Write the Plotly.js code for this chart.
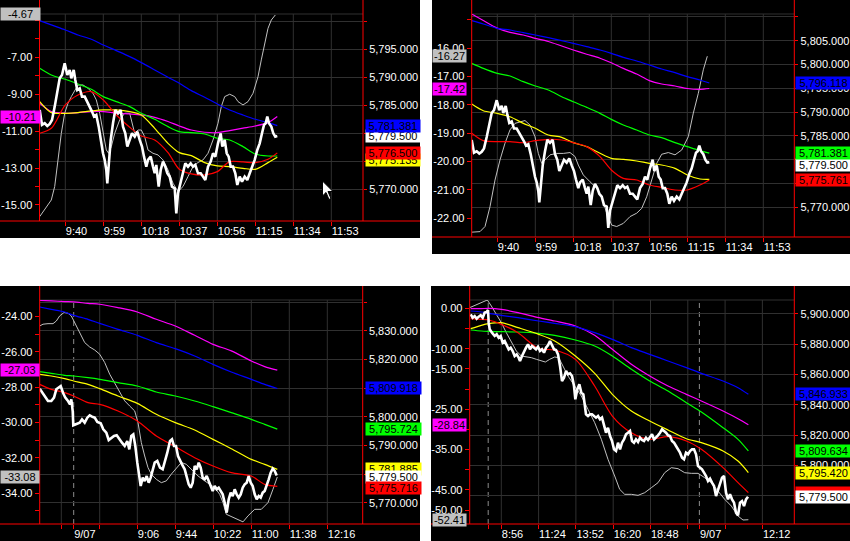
<!DOCTYPE html>
<html><head><meta charset="utf-8">
<script src="https://cdn.plot.ly/plotly-3.0.1.min.js"></script>
<style>html,body{margin:0;padding:0;background:#fff;overflow:hidden}#chart{width:850px;height:541px}</style>
</head><body><div id="chart"></div>
<script>
// ================= DATA =================
// Panels 1 & 2 share the same price series (1-min closes), x = minutes after 9:00
const priceTime12 = [27.2,28.35,29.7,31.0,32.2,33.35,34.7,36.0,37.2,38.35,
39.7,41.0,42.2,43.0,44.2,45.0,46.0,47.2,48.35,49.7,
51.0,52.2,53.35,54.35,55.5,56.7,57.7,58.85,59.7,60.5,
61.0,61.85,62.7,63.85,65.0,66.35,67.7,68.85,70.0,71.0,
72.2,73.35,74.7,76.0,77.2,78.35,79.35,80.5,81.35,82.7,
83.85,84.7,85.5,86.7,87.7,88.85,90.0,91.0,92.2,93.35,
94.7,95.5,96.35,97.7,98.85,100.0,101.35,102.7,103.85,105.0,
106.35,107.7,108.85,110.0,111.35,112.7,113.85,115.0,116.35,117.7,
118.5,119.7,120.7,121.7,122.7,123.85,125.0,126.0,127.2,128.35,
129.7,131.0,132.2,133.35,134.7,136.0,137.2,138.35,139.35,140.2,
141.0,141.85,143.0,144.0,145.0,146.0];
const price12 = [5784.17,5781.49,5781.79,5781.31,5781.67,5782.38,5784.76,5787.14,5789.82,5790.42,
5792.50,5790.42,5791.31,5789.82,5791.31,5789.52,5787.74,5788.04,5786.55,5786.55,
5785.65,5784.76,5783.87,5782.98,5783.27,5781.19,5778.81,5776.43,5775.24,5773.45,
5771.07,5775.24,5778.81,5781.79,5784.17,5783.57,5784.17,5781.19,5780.00,5777.62,
5778.81,5780.00,5779.40,5780.30,5778.81,5777.62,5775.83,5774.05,5775.24,5775.83,
5774.05,5772.86,5774.35,5770.48,5773.45,5774.94,5774.05,5772.86,5772.26,5770.48,
5770.18,5765.71,5769.29,5771.37,5772.86,5774.64,5774.05,5774.64,5774.05,5774.35,
5772.86,5772.86,5772.26,5771.67,5774.05,5774.94,5776.43,5775.83,5778.21,5780.00,
5777.62,5778.81,5776.43,5775.83,5774.05,5774.05,5772.86,5770.77,5772.26,5771.37,
5772.26,5771.67,5772.86,5774.05,5775.24,5777.02,5778.21,5780.00,5781.49,5781.79,
5782.98,5781.79,5781.19,5780.00,5779.40,5779.50];
const maTime12 = [27.2,33.0,40.0,46.35,53.0,59.0,65.5,72.2,78.0,84.7,91.35,97.0,103.0,109.7,116.0,122.2,128.85,135.0,141.35,146.0];

// Panel 1
const blue1 = [5800.12,5799.35,5798.45,5797.56,5796.79,5795.77,5794.76,5793.69,5792.62,5791.31,5790.00,5788.93,5787.62,5786.43,5785.24,5784.17,5783.27,5782.50,5781.90,5781.38];
const green1 = [5791.61,5790.42,5789.64,5788.81,5787.86,5786.55,5785.65,5784.76,5783.57,5782.50,5781.19,5780.30,5780.12,5779.88,5779.11,5778.81,5777.62,5776.31,5775.95,5775.95];
const yellow1 = [5785.65,5783.69,5783.57,5783.69,5783.99,5784.17,5784.17,5783.87,5783.27,5780.89,5778.21,5776.55,5776.01,5774.76,5774.17,5774.05,5773.75,5773.57,5774.76,5775.71];
const red1 = [5780.00,5780.89,5785.06,5786.85,5787.44,5785.95,5783.27,5781.07,5779.52,5778.81,5776.55,5773.57,5772.74,5772.56,5773.15,5774.94,5774.88,5774.76,5775.36,5776.50];
const magenta1 = [-9.49,-9.94,-10.03,-10.00,-9.94,-9.94,-10.03,-10.07,-10.12,-10.25,-10.48,-10.72,-10.94,-11.06,-11.08,-10.97,-10.84,-10.72,-10.54,-10.21];
const grayTime1 = [27.2,29.7,33.0,34.7,36.35,38.0,39.7,41.35,43.0,44.7,
46.35,48.85,51.35,53.85,55.5,57.2,58.85,60.5,61.7,63.0,
64.7,67.2,69.7,72.2,74.7,76.35,78.0,79.7,81.35,83.85,
86.35,88.85,91.35,93.85,96.35,98.85,101.35,103.85,106.35,108.85,
111.35,113.85,116.35,118.0,119.7,122.2,124.7,126.35,128.85,131.35,
133.85,136.35,138.0,139.7,141.35,143.0,145.0];
const gray1 = [-15.63,-15.27,-14.73,-14.00,-12.56,-11.12,-10.03,-9.49,-9.13,-8.77,
-8.50,-8.50,-8.68,-8.95,-9.31,-10.03,-11.12,-12.02,-12.20,-11.84,
-11.12,-10.39,-10.03,-10.03,-11.12,-10.94,-10.94,-11.30,-12.02,-12.20,
-12.29,-12.56,-13.10,-13.82,-14.27,-14.00,-13.46,-12.92,-12.70,-12.56,
-12.20,-11.48,-10.57,-9.67,-9.13,-9.00,-9.13,-9.40,-9.58,-9.40,
-8.95,-8.05,-7.14,-6.24,-5.43,-4.98,-4.71];

// Panel 2
const blue2 = [5809.20,5808.50,5807.59,5807.24,5806.68,5806.19,5805.63,5805.00,5804.44,5803.74,5803.04,5802.34,5801.50,5800.73,5799.89,5799.05,5798.28,5797.44,5796.74,5796.12];
const green2 = [5800.24,5799.19,5798.14,5797.58,5796.39,5795.48,5794.64,5793.24,5792.19,5791.00,5789.74,5788.48,5787.30,5786.25,5785.20,5784.64,5783.59,5782.75,5781.91,5781.38];
const yellow2 = [5791.70,5790.30,5789.74,5789.04,5787.64,5786.60,5785.20,5784.71,5783.59,5782.75,5781.35,5780.30,5780.09,5779.74,5779.25,5778.90,5778.20,5776.80,5775.96,5775.89];
const red2 = [5785.55,5784.00,5783.80,5783.80,5783.59,5784.00,5784.29,5784.15,5783.59,5782.75,5780.65,5777.85,5776.10,5775.75,5774.70,5774.21,5773.65,5773.65,5774.70,5775.76];
const magenta2 = [-14.79,-15.02,-15.29,-15.44,-15.53,-15.65,-15.76,-15.92,-16.06,-16.21,-16.35,-16.51,-16.71,-16.91,-17.14,-17.26,-17.33,-17.42,-17.45,-17.42];
const grayTime2 = [27.2,31.35,33.85,36.35,38.85,41.35,43.85,46.35,48.85,51.35,
53.85,56.35,58.85,60.5,62.2,63.85,66.35,69.7,73.0,76.35,
78.85,80.5,83.0,86.35,89.7,92.2,94.7,97.2,99.7,103.0,
106.35,109.7,112.2,114.7,117.2,119.7,122.2,125.5,128.85,132.2,
135.5,138.0,140.5,143.0,145.0];
const gray2 = [-22.49,-22.47,-22.29,-21.59,-20.65,-19.94,-19.35,-18.88,-18.65,-18.59,
-18.55,-18.71,-19.12,-19.71,-20.06,-19.94,-19.76,-19.71,-19.71,-19.68,
-19.82,-20.12,-20.47,-20.71,-20.94,-21.24,-21.82,-22.24,-22.29,-22.18,
-21.94,-21.82,-21.65,-21.24,-20.65,-20.06,-19.74,-19.68,-19.76,-19.59,
-19.12,-18.29,-17.59,-16.76,-16.28];

// Panel 3 (session minutes, compressed axis)
const priceTime3 = [448.4,450.7,453.4,456.7,460.0,462.7,465.0,467.4,469.4,471.7,
474.0,476.7,478.7,480.0,481.4,482.0,485.0,488.4,490.7,493.4,
496.0,498.4,500.7,503.4,506.0,509.4,512.0,515.0,517.4,520.0,
522.7,525.4,528.0,530.7,533.4,536.0,538.0,540.0,542.0,544.0,
546.0,548.0,549.4,551.4,553.4,555.4,557.4,559.4,561.4,563.4,
566.0,568.7,571.4,573.4,576.0,578.7,580.7,582.7,584.7,586.7,
588.7,590.7,593.4,595.4,597.4,599.4,601.4,603.4,605.4,607.4,
609.4,611.4,613.4,615.4,617.4,619.4,621.4,623.4,625.4,627.4,
629.4,631.4,633.4,635.4,637.4,639.4,641.4,643.4,645.4,647.4,
649.4,651.4,653.4,655.4,657.4,659.4,661.4,663.4,665.4,667.4,
669.4,671.4,673.4,675.4,677.4,679.4,681.4,683.4,685.4];
const price3 = [5809.85,5808.68,5807.29,5805.54,5805.54,5806.70,5809.62,5810.20,5810.78,5808.45,
5806.70,5805.54,5804.37,5806.12,5802.04,5797.04,5797.38,5797.97,5799.13,5797.97,
5799.71,5800.53,5800.06,5799.71,5798.20,5797.73,5795.64,5794.47,5791.91,5792.73,
5793.31,5793.54,5792.14,5790.98,5789.81,5791.56,5788.65,5793.31,5793.89,5789.81,
5783.99,5779.33,5775.84,5778.75,5777.58,5779.33,5777.00,5778.75,5781.66,5783.99,
5784.57,5782.24,5781.66,5783.99,5787.48,5791.56,5792.14,5789.81,5789.81,5786.32,
5784.57,5783.41,5781.66,5779.33,5776.42,5775.25,5777.00,5782.82,5781.66,5783.99,
5782.24,5778.75,5778.17,5779.33,5777.58,5775.84,5774.09,5775.84,5774.67,5775.25,
5774.09,5772.92,5770.01,5766.52,5771.18,5773.51,5772.34,5774.67,5772.92,5771.76,
5772.92,5775.25,5776.42,5777.00,5779.33,5777.00,5775.84,5772.92,5771.18,5772.34,
5771.76,5773.51,5774.09,5775.84,5778.17,5780.49,5781.89,5781.08,5779.50];
const maTime3 = [448.4,460.0,473.4,482.4,496.7,508.4,526.7,546.0,565.0,584.0,603.4,621.7,640.0,660.0,673.4,686.0];
const blue3 = [5838.39,5837.57,5836.64,5835.47,5834.08,5832.68,5830.58,5828.49,5825.92,5823.83,5821.26,5818.35,5815.67,5813.11,5811.36,5809.92];
const green3 = [5815.79,5815.21,5814.51,5814.27,5813.69,5813.11,5811.95,5810.78,5808.68,5807.29,5805.54,5803.56,5801.46,5799.13,5797.38,5795.72];
const yellow3 = [5814.86,5814.27,5813.34,5812.53,5811.36,5809.85,5807.29,5804.72,5800.88,5797.97,5795.41,5792.14,5788.88,5785.15,5783.41,5781.66];
const red3 = [5811.36,5809.62,5808.45,5807.29,5804.96,5804.37,5802.04,5798.55,5793.31,5789.58,5785.74,5782.82,5780.49,5779.33,5776.42,5775.72];
const magenta3 = [-23.08,-23.11,-23.15,-23.17,-23.25,-23.30,-23.49,-23.74,-24.15,-24.53,-25.06,-25.57,-25.94,-26.51,-26.83,-27.03];
const grayTime3 = [448.4,451.7,456.7,461.7,465.0,468.4,472.7,476.7,480.0,483.4,
488.4,493.4,498.4,503.4,508.4,513.4,518.4,523.4,528.4,533.4,
538.4,543.4,546.7,550.0,553.4,556.7,560.0,565.0,570.0,575.0,
580.0,585.0,590.0,595.0,600.0,606.7,613.4,618.4,623.4,628.4,
631.7,635.0,640.0,646.7,651.7,656.7,663.4,670.0,676.7,681.7,686.0];
const gray3 = [-24.53,-24.43,-24.40,-24.40,-24.25,-23.96,-23.77,-23.81,-23.96,-24.34,
-24.91,-25.47,-25.72,-25.89,-26.13,-26.60,-27.26,-27.74,-28.30,-28.77,
-29.06,-29.34,-30.00,-31.13,-31.89,-32.55,-32.92,-33.21,-33.40,-33.30,
-32.92,-32.60,-32.26,-32.36,-32.64,-33.02,-33.30,-33.49,-33.68,-34.06,
-34.53,-35.19,-35.32,-35.47,-35.62,-35.28,-34.91,-34.91,-34.53,-33.77,-33.08];

// Panel 4 (multi-day, compressed axis)
const priceTime4 = [414.5,422.4,430.4,438.3,446.2,454.2,462.1,470.0,478.0,483.3,
485.9,489.9,499.1,509.7,517.7,525.6,533.5,541.5,549.4,557.3,
565.3,573.2,581.1,589.1,597.0,605.0,610.2,618.2,626.1,634.1,
642.0,649.9,657.9,665.8,673.7,681.7,689.6,697.5,705.5,713.4,
721.3,729.3,737.2,745.2,753.1,761.0,769.0,776.9,784.8,792.8,
800.7,808.6,816.6,824.5,829.8,837.7,845.7,853.6,861.6,866.8,
872.1,880.1,888.0,895.9,903.9,911.8,919.8,927.7,935.6,943.6,
951.5,959.4,967.4,975.3,983.2,991.2,999.1,1007.1,1015.0,1022.9,
1030.9,1038.8,1046.7,1054.7,1062.6,1070.5,1078.5,1086.4,1094.4,1102.3,
1110.2,1118.2,1126.1,1134.0,1142.0,1149.9,1157.8,1165.8,1173.7,1181.6,
1189.6,1197.5,1205.5,1213.4,1221.3,1229.3,1237.2,1245.1,1253.1,1261.0,
1268.9,1276.9,1284.8,1292.8,1300.7,1308.6,1316.6,1324.5,1332.4,1340.4,
1348.3,1356.2,1364.2,1372.1,1380.1,1388.0,1395.9,1403.9,1411.8,1419.7,
1427.7,1435.6,1443.5,1451.5,1459.4,1467.4,1475.3,1483.2,1491.2,1499.1,
1507.0,1515.0];
const price4 = [5899.64,5897.44,5898.54,5896.79,5898.10,5898.98,5897.44,5900.74,5901.18,5902.50,
5894.15,5889.76,5887.56,5885.36,5886.46,5884.27,5885.36,5880.97,5882.07,5878.77,
5876.58,5877.68,5875.48,5872.19,5873.28,5871.09,5868.89,5872.19,5875.48,5877.68,
5879.87,5876.58,5878.77,5877.68,5876.58,5878.33,5875.48,5876.58,5874.38,5877.68,
5879.21,5882.07,5878.77,5876.58,5876.14,5873.28,5865.60,5855.72,5857.91,5862.30,
5860.11,5860.77,5859.01,5852.42,5843.64,5850.23,5853.52,5848.03,5846.93,5840.35,
5833.76,5832.66,5833.76,5833.76,5832.66,5831.56,5832.66,5830.46,5831.56,5826.07,
5821.68,5824.97,5819.48,5816.19,5810.70,5809.60,5815.09,5810.70,5815.09,5817.29,
5820.58,5821.68,5822.78,5816.19,5815.09,5817.29,5815.53,5818.39,5816.85,5816.19,
5818.39,5816.85,5819.05,5820.58,5817.29,5818.39,5819.92,5821.68,5823.88,5822.78,
5821.68,5819.92,5819.48,5816.19,5815.09,5812.90,5810.70,5808.50,5805.21,5804.11,
5808.50,5807.41,5809.60,5810.70,5810.70,5807.41,5799.72,5798.62,5797.52,5795.33,
5793.13,5789.84,5791.38,5788.74,5786.55,5779.96,5784.35,5787.64,5792.03,5793.13,
5782.15,5777.76,5781.06,5777.76,5775.57,5768.98,5767.22,5775.57,5776.66,5773.37,
5777.76,5779.50];
const maTime4 = [414.5,456.8,485.9,536.2,602.3,684.3,747.8,829.8,906.5,976.6,1052.0,1124.8,1197.5,1270.3,1329.8,1415.8,1475.3,1516.3];
const blue4 = [5901.83,5901.17,5900.29,5898.98,5897.44,5895.24,5893.71,5891.50,5887.56,5883.17,5877.68,5873.28,5868.89,5864.50,5860.77,5855.72,5851.33,5846.93];
const green4 = [5889.31,5888.66,5888.44,5888.22,5888.00,5887.12,5885.80,5882.73,5878.77,5872.19,5863.40,5855.72,5849.13,5841.44,5835.30,5824.97,5817.29,5809.63];
const yellow4 = [5890.19,5892.39,5893.49,5894.15,5890.85,5886.46,5882.07,5872.19,5860.77,5846.93,5835.95,5829.36,5823.43,5817.72,5815.09,5809.60,5803.01,5795.42];
const red4 = [5896.78,5896.34,5895.90,5893.05,5887.56,5877.02,5876.14,5869.99,5852.42,5832.66,5821.68,5817.29,5819.05,5816.19,5810.70,5798.62,5788.74,5782.15];
const magenta4 = [-0.04,-0.04,0.04,-0.21,-1.03,-2.27,-3.10,-4.34,-6.66,-10.13,-13.85,-16.75,-19.23,-21.30,-22.95,-25.43,-27.34,-28.84];
const grayTime4 = [410.5,430.4,456.8,480.6,496.5,516.3,536.2,556.0,575.9,595.7,
615.5,635.4,655.2,675.1,694.9,710.8,728.0,747.8,763.7,780.9,
800.7,827.2,853.6,880.1,906.5,933.0,959.4,985.9,1005.7,1025.6,
1052.0,1078.5,1104.9,1131.4,1157.8,1184.3,1210.7,1237.2,1263.7,1290.1,
1316.6,1343.0,1369.5,1395.9,1422.4,1448.8,1475.3,1495.1,1516.3];
const gray4 = [0.21,0.79,1.45,2.11,0.62,-1.45,-3.52,-6.00,-8.48,-10.55,
-11.79,-11.95,-12.20,-12.61,-13.03,-13.28,-12.61,-12.03,-12.20,-14.27,
-16.75,-19.23,-21.71,-25.02,-28.33,-32.46,-37.43,-41.56,-44.87,-46.11,
-46.11,-46.36,-45.70,-44.46,-43.22,-40.74,-39.50,-39.74,-40.74,-40.90,
-40.90,-41.98,-43.22,-45.29,-47.35,-49.01,-51.49,-52.48,-52.41];

// Tick values / labels
const xTicks12 = [40,59,78,97,116,135,154,173];
const xLabels12 = ['9:40','9:59','10:18','10:37','10:56','11:15','11:34','11:53'];
const xTicks3 = [470,482.4,508.4,546,584,622,660,698,736];
const xLabels3 = ['','9/07','','9:06','9:44','10:22','11:00','11:38','12:16'];
const xDates3 = [482.4];
const xTicks4 = [484,536,684,832,980,1128,1276,1322,1424,1572];
const xLabels4 = ['','8:56','11:24','13:52','16:20','18:48','','9/07','','12:12'];
const xDates4 = [484,1322];

const leftTicks1 = [-15,-14,-13,-12,-11,-10,-9,-8,-7,-6,-5];
const leftLabels1 = ['-15.00','','-13.00','','-11.00','','-9.00','','-7.00','',''];
const leftTicks2 = [-22,-21,-20,-19,-18,-17,-16,-15];
const leftLabels2 = ['-22.00','-21.00','-20.00','-19.00','-18.00','-17.00','-16.00',''];
const leftTicks3 = [-35,-34,-33,-32,-31,-30,-29,-28,-27,-26,-25,-24,-23];
const leftLabels3 = ['','-34.00','','-32.00','','-30.00','','-28.00','','-26.00','','-24.00',''];
const leftTicks4 = [-50,-45,-40,-35,-30,-25,-20,-15,-10,-5,0];
const leftLabels4 = ['-50.00','-45.00','','-35.00','','-25.00','','-15.00','-10.00','','0.00'];

// (labels hidden behind the value boxes in the original are left blank)
const rightTicks1 = [5770,5775,5780,5785,5790,5795,5800];
const rightLabels1 = ['5,770.000','','','5,785.000','5,790.000','5,795.000',''];
const rightTicks2 = [5770,5775,5780,5785,5790,5795,5800,5805,5810];
const rightLabels2 = ['5,770.000','','','5,785.000','5,790.000','5,795.000','5,800.000','5,805.000',''];
const rightTicks3 = [5770,5780,5790,5800,5810,5820,5830,5840];
const rightLabels3 = ['5,770.000','','5,790.000','5,800.000','','5,820.000','5,830.000',''];
const rightTicks4 = [5780,5800,5820,5840,5860,5880,5900];
const rightLabels4 = ['','5,800.000','5,820.000','5,840.000','5,860.000','5,880.000','5,900.000'];

// Last-value labels (position value, text) drawn in order
const rBoxVal1 = [5775.23,5776.50,5779.50,5781.381];
const rBoxTxt1 = ['5,775.135','5,776.500','5,779.500','5,781.381'];
const lBoxVal1 = [-10.21,-4.67];
const lBoxTxt1 = ['-10.21','-4.67'];
const rBoxVal2 = [5775.761,5779.0,5781.381,5796.118];
const rBoxTxt2 = ['5,775.761','5,779.500','5,781.381','5,796.118'];
const lBoxVal2 = [-17.42,-16.27];
const lBoxTxt2 = ['-17.42','-16.27'];
const rBoxVal3 = [5781.78,5778.98,5775.14,5795.724,5809.918];
const rBoxTxt3 = ['5,781.885','5,779.500','5,775.716','5,795.724','5,809.918'];
const lBoxVal3 = [-27.03,-33.08];
const lBoxTxt3 = ['-27.03','-33.08'];
const rBoxVal4 = [5782.15,5779.50,5795.42,5809.634,5846.933];
const rBoxTxt4 = ['&nbsp;','5,779.500','5,795.420','5,809.634','5,846.933'];
const lBoxVal4 = [-28.84,-52.41];
const lBoxTxt4 = ['-28.84','-52.41'];

// ================= STYLE / LAYOUT =================
const W = 850, H = 541;
const PX = p => p / W, PY = p => 1 - p / H;
const FONT = '"Liberation Sans", Arial, sans-serif';
const GRID = '#303030', AXIS = '#ff0000', DASH = '#8c8c8c';
const C = {blue:'#0000ff', magenta:'#ff00ff', green:'#00ff00', yellow:'#ffff00', red:'#ff0000', white:'#ffffff', gray:'#c0c0c0'};

const panels = [
  {bg:[0,420,0,238], plot:[39.5,363,14,221], xr:[27.1,188.85], yl:[-15.868,-4.654], yr:[5764.34,5801.30],
   xt:xTicks12, xl:xLabels12, xd:[], lt:leftTicks1, ll:leftLabels1, rt:rightTicks1, rl:rightLabels1,
   pt:priceTime12, p:price12, mt:maTime12, blue:blue1, magenta:magenta1, green:green1, yellow:yellow1, red:red1, gt:grayTime1, g:gray1,
   rbv:rBoxVal1, rbt:rBoxTxt1, rbc:['yellow','red','white','blue'], rbx:[364.5,54],
   lbv:lBoxVal1, lbt:lBoxTxt1, lbc:['magenta','gray'], lbx:[0,39]},
  {bg:[432,850,0,254], plot:[471.7,794.3,14,237], xr:[27.2,188.5], yl:[-22.66,-14.79], yr:[5763.78,5810.60],
   xt:xTicks12, xl:xLabels12, xd:[], lt:leftTicks2, ll:leftLabels2, rt:rightTicks2, rl:rightLabels2,
   pt:priceTime12, p:price12, mt:maTime12, blue:blue2, magenta:magenta2, green:green2, yellow:yellow2, red:red2, gt:grayTime2, g:gray2,
   rbv:rBoxVal2, rbt:rBoxTxt2, rbc:['red','white','green','blue'], rbx:[795,55],
   lbv:lBoxVal2, lbt:lBoxTxt2, lbc:['magenta','gray'], lbx:[432,33]},
  {bg:[0,420,286,541], plot:[39.7,362.7,300,524], xr:[448.4,771.4], yl:[-35.74,-23.06], yr:[5762.56,5840.83],
   xt:xTicks3, xl:xLabels3, xd:xDates3, lt:leftTicks3, ll:leftLabels3, rt:rightTicks3, rl:rightLabels3,
   pt:priceTime3, p:price3, mt:maTime3, blue:blue3, magenta:magenta3, green:green3, yellow:yellow3, red:red3, gt:grayTime3, g:gray3,
   rbv:rBoxVal3, rbt:rBoxTxt3, rbc:['yellow','white','red','green','blue'], rbx:[364.5,55],
   lbv:lBoxVal3, lbt:lBoxTxt3, lbc:['magenta','gray'], lbx:[0,38]},
  {bg:[431,850,286,541], plot:[469.7,794.3,300,524], xr:[410.6,1698.6], yl:[-53.47,2.11], yr:[5761.52,5909.08],
   xt:xTicks4, xl:xLabels4, xd:xDates4, lt:leftTicks4, ll:leftLabels4, rt:rightTicks4, rl:rightLabels4,
   pt:priceTime4, p:price4, mt:maTime4, blue:blue4, magenta:magenta4, green:green4, yellow:yellow4, red:red4, gt:grayTime4, g:gray4,
   rbv:rBoxVal4, rbt:rBoxTxt4, rbc:['red','white','yellow','green','blue'], rbx:[795,55],
   lbv:lBoxVal4, lbt:lBoxTxt4, lbc:['magenta','gray'], lbx:[432,33]}
];

const data = [], shapes = [], annotations = [];
const layout = {
  width: W, height: H, margin: {l:0, r:0, t:0, b:0},
  paper_bgcolor: '#ffffff', plot_bgcolor: 'rgba(0,0,0,0)',
  showlegend: false, hovermode: false,
  font: {family: FONT, size: 11, color: '#ffffff'},
  shapes: shapes, annotations: annotations
};
const tickFont = {family: FONT, size: 11, color: '#ffffff'};

function line(xs, ys, xa, ya, color, width, smooth) {
  const n = Math.min(xs.length, ys.length);
  return {type:'scatter', mode:'lines', x: xs.slice(0,n), y: ys.slice(0,n), xaxis: xa, yaxis: ya,
    line: {color: color, width: width, shape: smooth ? 'spline' : 'linear', smoothing: 0.8}, hoverinfo:'skip'};
}

panels.forEach((p, i) => {
  const xa = i === 0 ? 'x' : 'x' + (i + 1);
  const li = 2 * i + 1, ri = 2 * i + 2;
  const ya = li === 1 ? 'y' : 'y' + li;
  const yb = 'y' + ri;
  const [l, r, t, b] = p.plot;
  const [bx0, bx1, by0, by1] = p.bg;

  layout[i === 0 ? 'xaxis' : 'xaxis' + (i + 1)] = {
    domain: [PX(l), PX(r)], anchor: ya, range: p.xr, fixedrange: true,
    tickmode: 'array', tickvals: p.xt, ticktext: p.xl, tickfont: tickFont,
    showgrid: false, zeroline: false, showline: false,
    ticks: 'outside', ticklen: 4, tickwidth: 1, tickcolor: AXIS, ticklabelposition: 'outside right'
  };
  layout[li === 1 ? 'yaxis' : 'yaxis' + li] = {
    domain: [PY(b), PY(t)], anchor: xa, side: 'left', range: p.yl, fixedrange: true,
    tickmode: 'array', tickvals: p.lt, ticktext: p.ll, tickfont: tickFont,
    showgrid: false, zeroline: false, showline: false,
    ticks: 'outside', ticklen: 4, tickwidth: 1, tickcolor: AXIS
  };
  layout['yaxis' + ri] = {
    domain: [PY(b), PY(t)], anchor: xa, overlaying: ya, side: 'right', range: p.yr, fixedrange: true,
    tickmode: 'array', tickvals: p.rt, ticktext: p.rl, tickfont: tickFont,
    showgrid: true, gridcolor: GRID, gridwidth: 1, zeroline: false, showline: false,
    ticks: 'outside', ticklen: 3, tickwidth: 1, tickcolor: AXIS
  };

  // left-axis series (oscillator scale)
  data.push(line(p.gt, p.g, xa, ya, C.gray, 1, false));
  data.push(line(p.mt, p.magenta, xa, ya, C.magenta, 1.2, true));
  // right-axis series (price scale)
  data.push(line(p.mt, p.blue, xa, yb, C.blue, 1.2, true));
  data.push(line(p.mt, p.green, xa, yb, C.green, 1.2, true));
  data.push(line(p.mt, p.yellow, xa, yb, C.yellow, 1.2, true));
  data.push(line(p.mt, p.red, xa, yb, C.red, 1.2, true));
  data.push(line(p.pt, p.p, xa, yb, C.white, 2.6, false));

  // panel background
  shapes.push({type:'rect', xref:'paper', yref:'paper', x0:PX(bx0), x1:PX(bx1), y0:PY(by1), y1:PY(by0),
    fillcolor:'#000000', line:{width:0}, layer:'below'});
  // top inner border
  shapes.push({type:'line', xref:'paper', yref:'paper', x0:PX(l), x1:PX(r), y0:PY(t), y1:PY(t),
    line:{color:GRID, width:1}, layer:'below'});
  // vertical grid lines & day separators
  p.xt.forEach(v => {
    const isDate = p.xd.indexOf(v) >= 0;
    shapes.push({type:'line', xref:xa, yref:'paper', x0:v, x1:v, y0:PY(b), y1:PY(t),
      line: isDate ? {color:DASH, width:1, dash:'5px,4px'} : {color:GRID, width:1}, layer:'below'});
  });
  // red axis frame
  shapes.push({type:'line', xref:'paper', yref:'paper', x0:PX(bx0), x1:PX(bx1), y0:PY(b), y1:PY(b),
    line:{color:AXIS, width:1}, layer:'above'});
  shapes.push({type:'line', xref:'paper', yref:'paper', x0:PX(l), x1:PX(l), y0:PY(b), y1:PY(by0),
    line:{color:AXIS, width:1}, layer:'above'});
  shapes.push({type:'line', xref:'paper', yref:'paper', x0:PX(r), x1:PX(r), y0:PY(b), y1:PY(by0),
    line:{color:AXIS, width:1}, layer:'above'});

  // last-value boxes
  p.rbv.forEach((v, k) => {
    annotations.push({xref:'paper', x:PX(p.rbx[0]), xanchor:'left', yref:yb, y:v, yanchor:'middle',
      text:p.rbt[k], showarrow:false, bgcolor:C[p.rbc[k]], width:p.rbx[1], height:12, borderpad:0,
      align:'center', font:{family:FONT, size:11, color:'#000000'}});
  });
  p.lbv.forEach((v, k) => {
    annotations.push({xref:'paper', x:PX(p.lbx[0]), xanchor:'left', yref:ya, y:v, yanchor:'middle',
      text:p.lbt[k], showarrow:false, bgcolor:C[p.lbc[k]], width:p.lbx[1], height:12, borderpad:0,
      align:'center', font:{family:FONT, size:11, color:'#000000'}});
  });
});

// mouse pointer seen in the screenshot (panel 1)
const cur = [[0,0],[0,15],[3.5,11.5],[6.5,18.5],[8.5,17.5],[5.5,10.5],[10.5,10.5]];
const cx = 322.5, cy = 181;
const path = cur.map((q, k) => (k ? 'L' : 'M') + PX(cx + q[0]).toFixed(5) + ',' + PY(cy + q[1]).toFixed(5)).join(' ') + ' Z';
shapes.push({type:'path', xref:'paper', yref:'paper', path: path, fillcolor:'#ffffff', line:{color:'#000000', width:1}, layer:'above'});

Plotly.newPlot('chart', data, layout, {displayModeBar:false, staticPlot:true});
</script></body></html>
